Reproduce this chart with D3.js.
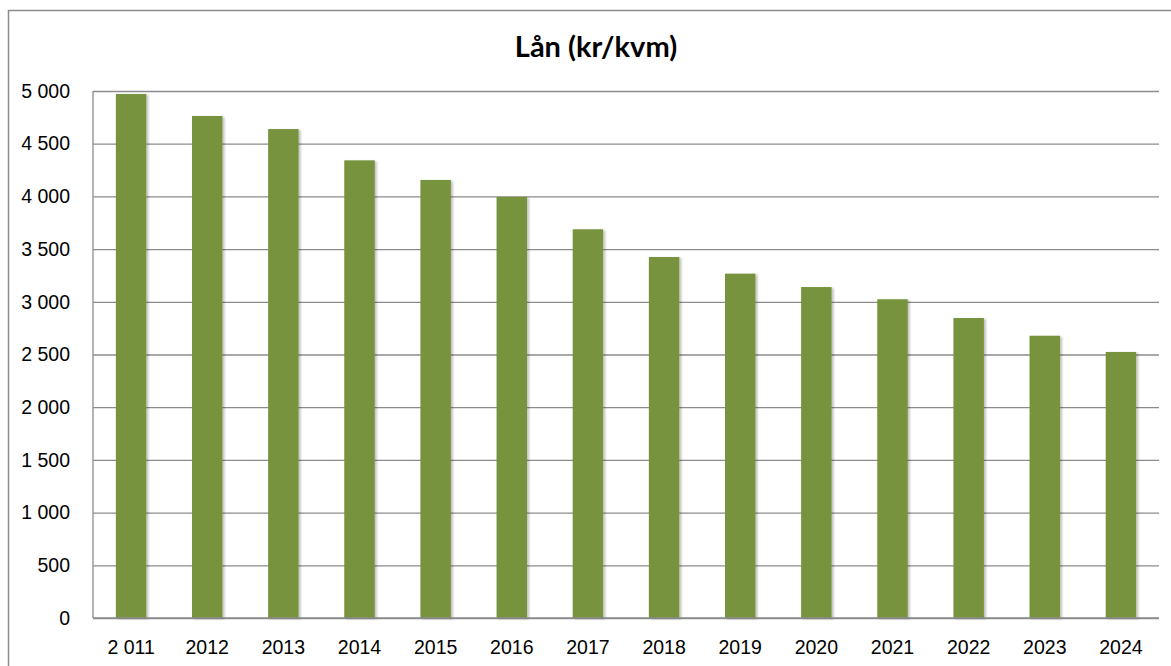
<!DOCTYPE html>
<html>
<head>
<meta charset="utf-8">
<script src="https://cdn.jsdelivr.net/npm/d3@7"></script>
<style>
  body { margin: 0; background: #fff; }
  svg { display: block; font-family: Lato, "Open Sans", sans-serif; }
</style>
</head>
<body>
<div id="chart"></div>
<script>
// Lån per kvm
var years = ['2 011', '2012', '2013', '2014', '2015', '2016', '2017',
             '2018', '2019', '2020', '2021', '2022', '2023', '2024'];
var loan = [4972, 4763, 4639, 4342, 4156, 3995, 3688,
            3425, 3267, 3140, 3024, 2846, 2678, 2524];
var yTicks = [0, 500, 1000, 1500, 2000, 2500, 3000, 3500, 4000, 4500, 5000];

var width = 1171, height = 666;
var margin = {top: 91, right: 12, bottom: 48, left: 93};

var svg = d3.select('#chart').append('svg')
    .attr('width', width)
    .attr('height', height);

var defs = svg.append('defs');
var shadow = defs.append('filter').attr('id', 'shadow')
    .attr('x', '-20%').attr('y', '-5%').attr('width', '150%').attr('height', '110%');
shadow.append('feDropShadow')
    .attr('dx', 2).attr('dy', 1).attr('stdDeviation', 1.2)
    .attr('flood-color', '#000').attr('flood-opacity', 0.25);

// outer chart frame
svg.append('path')
    .attr('d', 'M8.5,' + height + 'V10.5H' + width)
    .attr('fill', 'none')
    .attr('stroke', '#8c8c8c')
    .attr('stroke-width', 1.5);

var x = d3.scaleBand()
    .domain(years)
    .range([margin.left, width - margin.right])
    .paddingInner(0.6)
    .paddingOuter(0.3);

var y = d3.scaleLinear()
    .domain([0, 5000])
    .range([height - margin.bottom, margin.top]);

var fmt = function(d) { return d3.format(',')(d).replace(/,/g, ' '); };

// gridlines + y labels
var yAxis = svg.append('g')
    .attr('transform', 'translate(' + margin.left + ',0)')
    .call(d3.axisLeft(y).tickValues(yTicks).tickFormat(fmt)
      .tickSize(-(width - margin.left - margin.right)).tickPadding(23));
yAxis.select('.domain').remove();
yAxis.selectAll('.tick line').attr('stroke', '#8c8c8c').attr('stroke-width', 1.3);
yAxis.selectAll('.tick text')
    .attr('fill', '#000')
    .style('font-size', '19.5px');

// vertical axis line
svg.append('line')
    .attr('x1', margin.left).attr('x2', margin.left)
    .attr('y1', y(5000)).attr('y2', y(0))
    .attr('stroke', '#8c8c8c').attr('stroke-width', 1.3);

// bars
svg.append('g').selectAll('rect')
    .data(loan)
    .enter().append('rect')
    .attr('x', function(d, i) { return x(years[i]); })
    .attr('y', function(d) { return y(d); })
    .attr('width', x.bandwidth())
    .attr('height', function(d) { return y(0) - y(d); })
    .attr('fill', '#77933c')
    .attr('filter', 'url(#shadow)');

// x labels
var xAxis = svg.append('g')
    .attr('transform', 'translate(0,' + y(0) + ')')
    .call(d3.axisBottom(x).tickSize(0).tickPadding(22));
xAxis.select('.domain').remove();
xAxis.selectAll('.tick text')
    .attr('fill', '#000')
    .style('font-size', '19.5px');

// x baseline drawn over bars
svg.append('line')
    .attr('x1', margin.left).attr('x2', width - margin.right)
    .attr('y1', y(0)).attr('y2', y(0))
    .attr('stroke', '#8c8c8c').attr('stroke-width', 1.3);

svg.append('text')
    .attr('x', 596)
    .attr('y', 57)
    .attr('text-anchor', 'middle')
    .style('font-size', '29px')
    .style('font-weight', 'bold')
    .text('Lån (kr/kvm)');
</script>
</body>
</html>
